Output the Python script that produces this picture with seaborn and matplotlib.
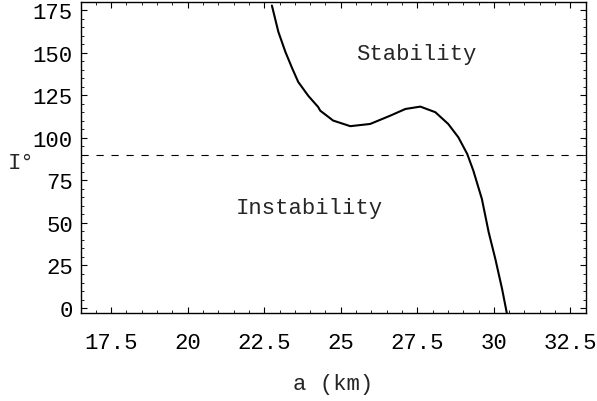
import matplotlib
matplotlib.use("Agg")
import matplotlib.pyplot as plt
import seaborn as sns
import pandas as pd
from matplotlib.ticker import MultipleLocator

# curve: a (km) vs inclination I (deg)
a_km = [22.75, 22.96, 23.19, 23.42, 23.61, 23.94, 24.26, 24.33, 24.75, 25.31,
        25.96, 26.62, 27.11, 27.6, 28.09, 28.51, 28.84, 29.13, 29.33, 29.61,
        29.83, 30.05, 30.27, 30.43]
incl = [177.8, 162.4, 150.6, 140.6, 132.9, 124.7, 118.2, 116.0, 110.2, 106.9,
        108.2, 113.1, 117.0, 118.4, 115.1, 108.2, 100.4, 90.6, 80.8, 64.1,
        44.7, 28.8, 11.2, -3.5]
critical_incl = 90
region_labels = ["Stability", "Instability"]
region_pos = [(27.47, 149.4), (23.97, 58.8)]

sns.set_style("ticks")
plt.rcParams["font.family"] = ["Liberation Mono", "DejaVu Sans Mono"]

df = pd.DataFrame({"a": a_km, "I": incl})

fig = plt.figure(figsize=(5.97, 4.02), dpi=100)
ax = fig.add_axes([0.136, 0.219, 0.845, 0.774])

sns.lineplot(data=df, x="a", y="I", sort=False, color="black", lw=1.5,
             solid_joinstyle="round", ax=ax)
ax.axhline(critical_incl, color="black", lw=0.8, ls=(0, (6.5, 7)))

for txt, (x, y) in zip(region_labels, region_pos):
    ax.text(x, y, txt, ha="center", va="center", fontsize=16)

ax.set_xlim(16.52, 33.0)
ax.set_ylim(-2.9, 180)
ax.xaxis.set_minor_locator(MultipleLocator(0.5))
ax.yaxis.set_minor_locator(MultipleLocator(5))
ax.set_xticks([17.5, 20, 22.5, 25, 27.5, 30, 32.5])
ax.set_xticklabels(["17.5", "20", "22.5", "25", "27.5", "30", "32.5"])
ax.set_yticks([0, 25, 50, 75, 100, 125, 150, 175])

ax.tick_params(which="both", direction="in", top=True, right=True,
               colors="black", labelsize=16)
ax.tick_params(which="major", length=4, width=0.8)
ax.tick_params(which="minor", length=2, width=0.6)
ax.tick_params(axis="x", pad=14)
ax.tick_params(axis="y", pad=6)
for s in ax.spines.values():
    s.set_linewidth(1.0)
    s.set_color("black")

ax.set_xlabel("a (km)", fontsize=16, labelpad=14)
ax.set_ylabel("I°", fontsize=16, rotation=0)
ax.yaxis.set_label_coords(-0.12, 0.45)

fig.savefig("out.png", dpi=100)
